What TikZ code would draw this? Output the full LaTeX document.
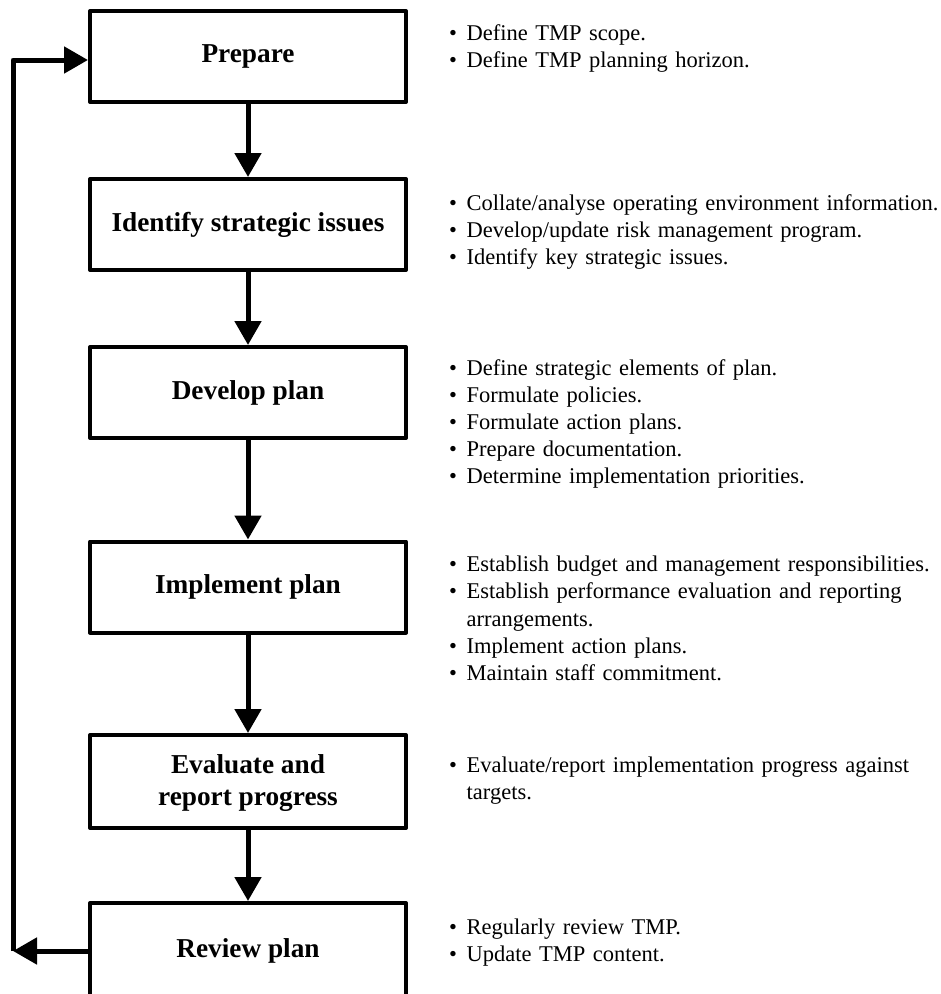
\documentclass[tikz,border=0pt]{standalone}
\usepackage{fontspec}
\setmainfont{Liberation Serif}
\usetikzlibrary{arrows.meta}
\newcommand\bitem{\makebox[17.5pt][l]{\textbullet}}
\newcommand\bcont{\hspace*{17.5pt}}
\begin{document}
\begin{tikzpicture}[x=1pt,y=-1pt,
  stage/.style={draw, line width=4pt, minimum width=316pt, minimum height=91pt,
    inner sep=0pt, align=center, line join=round,
    font=\fontsize{27.3}{31.4}\selectfont\bfseries},
  flow/.style={line width=5pt, line join=round, -{Triangle[width=26pt,length=24pt]}},
  notes/.style={anchor=base west, inner sep=0pt, text width=500pt, align=left,
    font=\fontsize{22.5}{27.2}\selectfont}
]
\useasboundingbox (0,0) rectangle (941,994);
\clip (0,0) rectangle (941,994);

\node[stage] (prep) at (248,56.5) {Prepare};
\node[stage] (iden) at (248,224.5) {Identify strategic issues};
\node[stage] (dev)  at (248,392.5) {Develop plan};
\node[stage] (impl) at (248,587) {Implement plan};
\node[stage, minimum height=93pt] (eval) at (248,781.5) {\strut Evaluate and\\report progress};
\node[stage, minimum height=96pt] (rev)  at (248,951) {Review plan};

\draw[flow] (prep) -- (iden);
\draw[flow] (iden) -- (dev);
\draw[flow] (dev) -- (impl);
\draw[flow] (impl) -- (eval);
\draw[flow] (eval) -- (rev);

\coordinate (lt) at (13,60);
\draw[flow] (rev.west) -- (rev.west -| lt);
\draw[flow] (rev.west -| lt) -- (lt) -- (lt -| prep.west);

\node[notes] (n1) at (449,40.5) {\bitem Define TMP scope.\\
\bitem Define TMP planning horizon.};
\node[notes] (n2) at (449,210) {\bitem Collate/analyse operating environment information.\\
\bitem Develop/update risk management program.\\
\bitem Identify key strategic issues.};
\node[notes] (n3) at (449,375) {\bitem Define strategic elements of plan.\\
\bitem Formulate policies.\\
\bitem Formulate action plans.\\
\bitem Prepare documentation.\\
\bitem Determine implementation priorities.};
\node[notes] (n4) at (449,571.7) {\bitem Establish budget and management responsibilities.\\
\bitem Establish performance evaluation and reporting\\
\bcont arrangements.\\
\bitem Implement action plans.\\
\bitem Maintain staff commitment.};
\node[notes] (n5) at (449,772.7) {\bitem Evaluate/report implementation progress against\\
\bcont targets.};
\node[notes] (n6) at (449,934) {\bitem Regularly review TMP.\\
\bitem Update TMP content.};
\end{tikzpicture}
\end{document}
